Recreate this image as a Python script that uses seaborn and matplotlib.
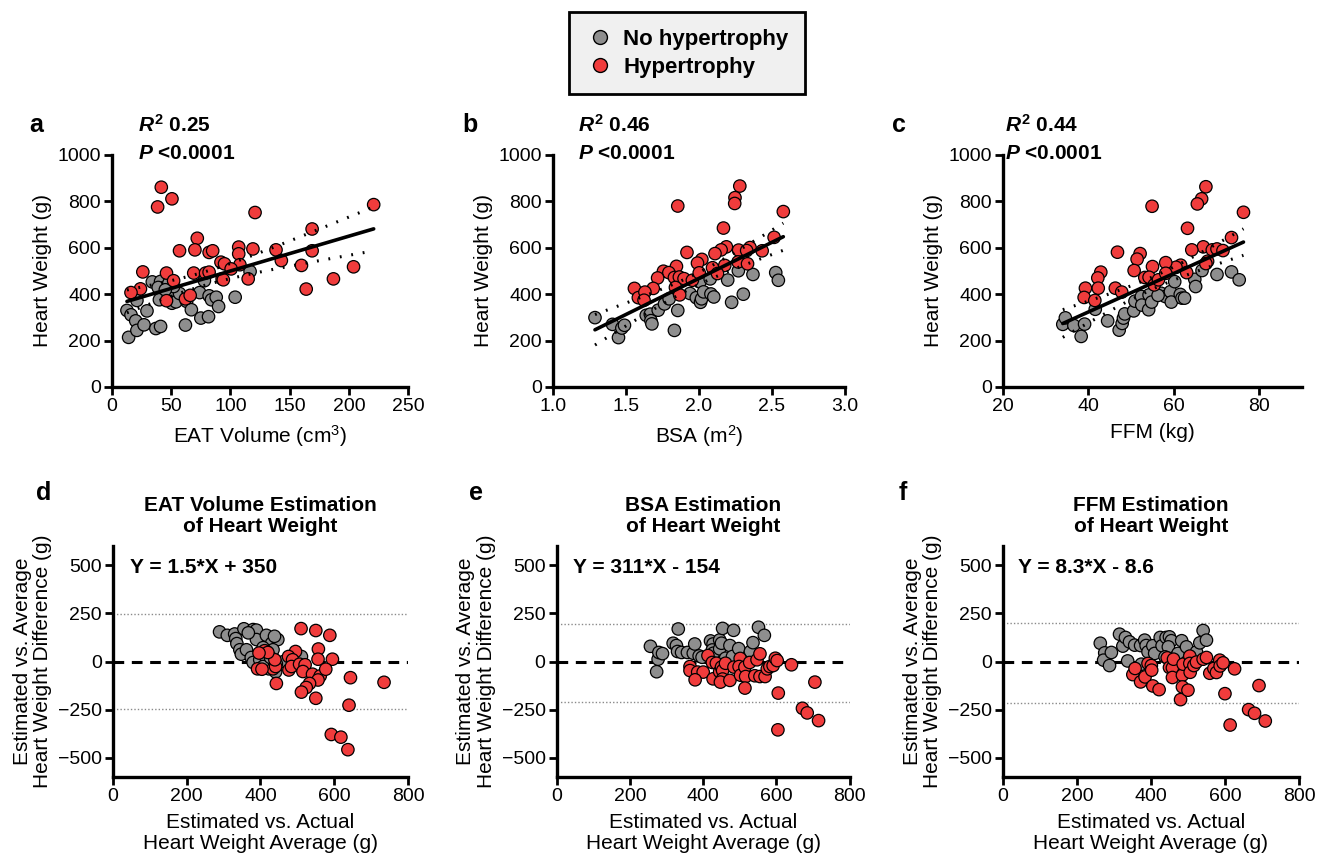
import numpy as np
import pandas as pd
import matplotlib
matplotlib.use('Agg')
import matplotlib.pyplot as plt
import seaborn as sns

# ---- panel a: EAT volume vs heart weight
eat_no_x = [12.6, 14, 16, 20, 21, 27, 29.5, 21, 37, 41, 34, 41, 39, 40, 47, 50.6, 54, 57, 63, 62,
            67, 74, 75, 81.5, 82, 84, 88, 90, 104, 116.6, 78, 48, 52, 45]
eat_no_y = [330, 214, 311, 285, 244, 268, 328, 373, 252, 261, 453, 455, 429, 376, 407, 361, 367, 403, 369, 267,
            333, 407, 297, 303, 393, 376, 387, 347, 387, 498, 458, 448, 433, 419]
eat_hy_x = [41.6, 38.5, 50.6, 120.8, 221, 169, 72, 57, 70, 82, 85, 107, 107, 108, 119, 138.5, 143, 160, 169, 204,
            187, 164, 115, 92, 95, 100.6, 93, 94, 69, 79, 82, 26, 24, 16, 46, 52, 46, 62, 66]
eat_hy_y = [861, 776, 811, 752, 786, 681, 641, 587, 591, 580, 587, 603, 574, 527, 595, 591, 545, 524, 587, 518,
            466, 422, 466, 538, 531, 509, 466, 462, 491, 491, 495, 496, 423, 407, 491, 458, 372, 380, 395]

# ---- panel b: BSA vs heart weight
bsa_no_x = [1.288, 1.408, 1.449, 1.472, 1.49, 1.639, 1.667, 1.671, 1.678, 1.721, 1.764, 1.796, 1.832, 1.855, 1.939,
            1.982, 2.011, 2.018, 2.007, 2.032, 2.077, 2.082, 2.102, 2.197, 2.224, 2.304, 2.27, 2.37, 2.526, 2.544]
bsa_no_y = [299, 270, 213, 254, 266, 309, 314, 286, 272, 331, 358, 380, 244, 330, 403,
            385, 365, 380, 453, 410, 466, 401, 388, 461, 365, 400, 501, 485, 493, 460]
bsa_hy_x = [2.28, 2.247, 2.245, 1.855, 2.578, 2.168, 2.515, 2.188, 2.152, 2.11, 2.272, 2.35, 2.327, 2.433, 1.918,
            2.02, 1.99, 2.093, 2.177, 2.268, 2.333, 1.846, 1.757, 1.794, 1.717, 1.832, 1.866, 1.898, 1.955, 2.002,
            2.127, 1.839, 1.868, 1.687, 1.558, 1.585, 1.63, 1.624]
bsa_hy_y = [866, 816, 791, 780, 756, 685, 645, 604, 591, 575, 590, 601, 588, 587, 580,
            550, 534, 514, 524, 539, 531, 520, 499, 493, 470, 472, 474, 467, 460, 492,
            489, 429, 397, 425, 425, 385, 409, 374]

# ---- panel c: FFM vs heart weight
ffm_no_x = [34, 34.6, 36.6, 38.3, 39.1, 41.6, 44.5, 47.2, 47.9, 48.2, 48.5, 50.6, 50.9, 52.4, 52.5, 54.1, 54.2,
            54.8, 57, 58, 59.2, 59.4, 60.2, 61.5, 61.9, 62.5, 64.9, 65.1, 66.6, 70.1, 73.5, 75.3, 56.3]
ffm_no_y = [270, 298, 265, 218, 271, 335, 285, 245, 274, 297, 315, 328, 370, 390, 353, 333, 397,
            366, 404, 390, 411, 366, 454, 399, 383, 383, 464, 433, 502, 485, 496, 462, 395]
ffm_hy_x = [67.5, 66.5, 65.5, 54.9, 76.3, 63.2, 73.5, 66.9, 64.2, 69, 70.1, 71.5, 67.9, 67.5, 61.6, 60.5, 63,
            58.1, 55, 52.1, 51.4, 50.7, 46.8, 42.9, 42.2, 42.3, 39.3, 39, 41.5, 46.3, 47.8, 53.2, 54.2, 55.4,
            56.4, 58.1]
ffm_hy_y = [863, 811, 789, 779, 753, 684, 644, 604, 591, 591, 595, 588, 542, 532, 525, 516, 493,
            536, 519, 575, 551, 502, 581, 495, 470, 426, 426, 386, 373, 426, 409, 472, 473, 440,
            462, 490]

# regression equations shown in d-f
fit_slope = [1.5, 311, 8.3]
fit_intercept = [350, -154, -8.6]
r2_text = ['0.25', '0.46', '0.44']

# ---- panels d-f: Bland-Altman (average, difference)
ba_eat_no_x = [289, 310, 330, 333, 336, 344, 348, 362, 355, 380, 389, 389, 416, 430, 447, 434, 407, 416, 375, 380,
               398, 425, 423, 441, 463, 481, 511, 414, 407, 443, 427, 367, 438]
ba_eat_no_y = [154, 136, 143, 119, 93, 61, 38, 61, 170, 166, 163, 114, 136, 94, 114, 61, 72, 52, 21, -5,
               9, -9, -38, -54, 0, 26, 26, 26, -26, -12, 21, 149, 131]
ba_eat_hy_x = [510, 550, 588, 557, 556, 595, 495, 476, 487, 477, 484, 506, 521, 515, 541, 562, 556, 577, 533, 524,
               511, 550, 443, 434, 441, 439, 411, 420, 396, 392, 404, 644, 640, 592, 618, 637, 735]
ba_eat_hy_y = [171, 161, 136, 65, 12, 12, 52, 26, 9, -44, -26, -14, -17, -52, -66, -75, -96, -40, -114, -135,
               -159, -191, -114, -38, -26, 9, 56, 47, 44, -38, -40, -84, -227, -379, -393, -458, -108]

ba_bsa_no_x = [256, 273, 277, 279, 289, 332, 318, 327, 330, 341, 357, 373, 377, 389, 397, 420, 427, 425, 428, 445,
               445, 450, 453, 461, 473, 480, 483, 497, 529, 536, 551, 567]
ba_bsa_no_y = [79, -53, 12, 47, 41, 169, 95, 83, 52, 47, 47, 43, 91, 29, 22, 107, 91, 60, 43, 112,
               66, 95, 172, 17, 83, 26, 162, 67, 52, 98, 178, 136]
ba_bsa_hy_x = [413, 364, 364, 385, 400, 378, 425, 436, 427, 445, 450, 453, 453, 447, 461, 473, 484, 501, 498, 502,
               514, 516, 514, 527, 541, 547, 555, 555, 569, 575, 582, 591, 597, 602, 605, 641, 705, 671, 684, 715,
               604]
ba_bsa_hy_y = [31, -26, -47, -55, -55, -95, -5, -9, -90, -53, -29, -47, -91, -107, -9, -98, -29, 16, -26, -71,
               -29, -78, -138, -5, -74, 9, 40, -78, -78, -38, -26, -21, 17, 5, -164, -17, -107, -243, -267, -307,
               -355]

ba_ffm_no_x = [263, 275, 272, 288, 293, 315, 324, 331, 342, 356, 337, 372, 383, 387, 392, 405, 410, 374, 425, 430,
               441, 450, 455, 447, 438, 473, 483, 496, 523, 532, 541, 550]
ba_ffm_no_y = [95, 45, 7, -21, 47, 142, 80, 125, 102, 85, 3, 83, 111, 83, 50, 82, 42, -14, 125, 82,
               125, 128, 108, 76, 24, 42, 108, 76, 50, 97, 161, 111]
ba_ffm_hy_x = [351, 357, 372, 384, 392, 401, 402, 405, 422, 444, 450, 458, 461, 458, 480, 485, 485, 487, 500, 505,
               505, 506, 516, 523, 541, 550, 559, 570, 577, 586, 587, 595, 600, 626, 692, 664, 680, 709, 614]
ba_ffm_hy_y = [-68, -36, -106, -80, -10, -21, -45, -127, -146, 19, -31, -33, 12, -83, -198, -71, -132, -14, -149, 28,
               -10, -56, -21, -3, 12, 21, -61, -36, -57, 7, -23, -7, -167, -38, -125, -250, -269, -309, -330]

ba_titles = ['EAT Volume Estimation\nof Heart Weight', 'BSA Estimation\nof Heart Weight',
             'FFM Estimation\nof Heart Weight']
ba_equations = ['Y = 1.5*X + 350', 'Y = 311*X - 154', 'Y = 8.3*X - 8.6']

GROUPS = ['No hypertrophy', 'Hypertrophy']
PALETTE = {'No hypertrophy': '#8e8e8e', 'Hypertrophy': '#f03c3c'}

sns.set_theme(style='ticks')
plt.rcParams['font.family'] = ['Liberation Sans', 'DejaVu Sans']
plt.rcParams['text.color'] = 'black'
plt.rcParams['axes.labelcolor'] = 'black'
plt.rcParams['mathtext.fontset'] = 'custom'
plt.rcParams['mathtext.rm'] = 'Liberation Sans'
plt.rcParams['mathtext.it'] = 'Liberation Sans:italic:bold'
plt.rcParams['mathtext.bf'] = 'Liberation Sans:bold'


def make_df(no_x, no_y, hy_x, hy_y):
    return pd.DataFrame({'x': no_x + hy_x, 'y': no_y + hy_y,
                         'group': [GROUPS[0]] * len(no_x) + [GROUPS[1]] * len(hy_x)})


def style_ax(ax):
    sns.despine(ax=ax)
    for s in ['left', 'bottom']:
        ax.spines[s].set_linewidth(2.4)
        ax.spines[s].set_color('black')
    ax.tick_params(width=2, length=6, labelsize=14, color='black', labelcolor='black', pad=2)


def scatter(ax, df, legend=False):
    sns.scatterplot(data=df, x='x', y='y', hue='group', palette=PALETTE, hue_order=GROUPS,
                    s=80, edgecolor='black', linewidth=0.9, ax=ax, legend=legend, zorder=3)


def fit_band(ax, x, y, slope, intercept):
    x = np.asarray(x, float)
    y = np.asarray(y, float)
    n = len(x)
    resid = y - (slope * x + intercept)
    s = np.sqrt(np.sum(resid ** 2) / (n - 2))
    xs = np.linspace(x.min(), x.max(), 200)
    se = s * np.sqrt(1 / n + (xs - x.mean()) ** 2 / np.sum((x - x.mean()) ** 2))
    fit = slope * xs + intercept
    ax.plot(xs, fit, color='black', lw=2.6, zorder=4)
    for band in (fit - 1.99 * se, fit + 1.99 * se):
        ax.plot(xs, band, color='black', lw=2.2, linestyle=(0, (0.6, 3.2)), zorder=4)


fig = plt.figure(figsize=(13.26, 8.6), dpi=100)

# ---- top row
top_pos = [(0.0845, 0.55, 0.2232, 0.2698), (0.417, 0.55, 0.2202, 0.2698), (0.7564, 0.55, 0.2255, 0.2698)]
top_data = [(eat_no_x, eat_no_y, eat_hy_x, eat_hy_y), (bsa_no_x, bsa_no_y, bsa_hy_x, bsa_hy_y),
            (ffm_no_x, ffm_no_y, ffm_hy_x, ffm_hy_y)]
top_xlabels = ['EAT Volume (cm$^{3}$)', 'BSA (m$^{2}$)', 'FFM (kg)']
top_xlim = [(0, 250), (1.0, 3.0), (20, 90)]
top_xticks = [[0, 50, 100, 150, 200, 250], [1.0, 1.5, 2.0, 2.5, 3.0], [20, 40, 60, 80]]
letters_top = ['a', 'b', 'c']
letter_x = [0.022, 0.349, 0.673]
r2_x = [0.088, 0.086, 0.007]

legend_handles = None
for i, pos in enumerate(top_pos):
    ax = fig.add_axes(pos)
    no_x, no_y, hy_x, hy_y = top_data[i]
    df = make_df(no_x, no_y, hy_x, hy_y)
    scatter(ax, df, legend=(i == 0))
    if i == 0:
        legend_handles, legend_labels = ax.get_legend_handles_labels()
        ax.get_legend().remove()
    fit_band(ax, df['x'], df['y'], fit_slope[i], fit_intercept[i])
    ax.set_xlim(*top_xlim[i])
    ax.set_xticks(top_xticks[i])
    if i == 1:
        ax.set_xticklabels([f'{v:.1f}' for v in top_xticks[i]])
    ax.set_ylim(0, 1000)
    ax.set_yticks(range(0, 1001, 200))
    ax.set_xlabel(top_xlabels[i], fontsize=15, labelpad=6)
    ax.set_ylabel('Heart Weight (g)', fontsize=15, labelpad=4)
    style_ax(ax)
    ax.text(r2_x[i], 1.13, r'$R^{\mathbf{2}}$ ' + r2_text[i], transform=ax.transAxes,
            fontsize=15, fontweight='bold', va='center', ha='left')
    ax.text(r2_x[i], 1.005, r'$P$ <0.0001', transform=ax.transAxes,
            fontsize=15, fontweight='bold', va='center', ha='left')
    fig.text(letter_x[i], 1 - 125 / 860, letters_top[i], fontsize=18, fontweight='bold', va='center')

# ---- bottom row (Bland-Altman)
bot_pos = [(0.0852, 0.0965, 0.2225, 0.2686), (0.4198, 0.0965, 0.221, 0.2686), (0.7564, 0.0965, 0.2232, 0.2686)]
bot_data = [(ba_eat_no_x, ba_eat_no_y, ba_eat_hy_x, ba_eat_hy_y),
            (ba_bsa_no_x, ba_bsa_no_y, ba_bsa_hy_x, ba_bsa_hy_y),
            (ba_ffm_no_x, ba_ffm_no_y, ba_ffm_hy_x, ba_ffm_hy_y)]
letters_bot = ['d', 'e', 'f']
eq_x = [0.058, 0.055, 0.05]

for i, pos in enumerate(bot_pos):
    ax = fig.add_axes(pos)
    no_x, no_y, hy_x, hy_y = bot_data[i]
    df = make_df(no_x, no_y, hy_x, hy_y)
    diff = df['y'].to_numpy(float)
    mean, sd = diff.mean(), diff.std(ddof=1)
    for lim in (mean + 1.96 * sd, mean - 1.96 * sd):
        ax.axhline(lim, color='#8a8a8a', lw=1.0, linestyle=(0, (1, 1.5)), zorder=1)
    ax.axhline(0, color='black', lw=2.2, linestyle=(0, (3.5, 2.5)), zorder=2)
    scatter(ax, df)
    ax.set_xlim(0, 800)
    ax.set_xticks([0, 200, 400, 600, 800])
    ax.set_ylim(-600, 600)
    ax.set_yticks([-500, -250, 0, 250, 500])
    ax.set_xlabel('Estimated vs. Actual\nHeart Weight Average (g)', fontsize=15, labelpad=6, linespacing=1.1)
    ax.set_ylabel('Estimated vs. Average\nHeart Weight Difference (g)', fontsize=15, labelpad=4, linespacing=1.1)
    style_ax(ax)
    ax.set_title(ba_titles[i], fontsize=15, fontweight='bold', pad=10, linespacing=1.15)
    ax.text(eq_x[i], 0.905, ba_equations[i], transform=ax.transAxes,
            fontsize=15, fontweight='bold', va='center', ha='left')
    fig.text(letter_x[i] + 0.005, 1 - 493 / 860, letters_bot[i], fontsize=18, fontweight='bold', va='center')

# ---- shared legend
for h in legend_handles:
    h.set_markeredgecolor('black')
    h.set_markeredgewidth(1.0)
    h.set_markersize(10)
leg = fig.legend(legend_handles, legend_labels, loc='center', bbox_to_anchor=(0.518, 0.938),
                 frameon=True, fancybox=False, framealpha=1, facecolor='#f0f0f0', edgecolor='black',
                 prop={'weight': 'bold', 'size': 16}, handletextpad=0.4, borderpad=0.75,
                 labelspacing=0.3, handlelength=1.3, borderaxespad=0)
leg.get_frame().set_linewidth(2)

fig.savefig('out.png', dpi=100, facecolor='white')
